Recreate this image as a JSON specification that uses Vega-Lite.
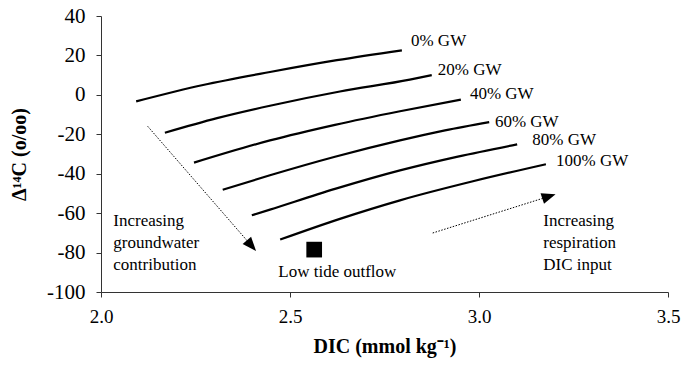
{
  "$schema": "https://vega.github.io/schema/vega-lite/v6.json",
  "width": 567,
  "height": 276,
  "autosize": {"type": "none"},
  "padding": {"left": 101, "top": 16, "right": 15, "bottom": 78},
  "background": "white",
  "config": {
    "view": {"stroke": null},
    "font": "Liberation Serif",
    "axis": {
      "labelFont": "Liberation Serif",
      "labelColor": "black",
      "titleFont": "Liberation Serif",
      "titleFontWeight": "bold",
      "titleColor": "black",
      "domainColor": "#333",
      "tickColor": "#333",
      "grid": false,
      "tickSize": 5,
      "labelOverlap": false
    }
  },
  "datasets": {
    "curves": [
      {"series": "0% GW", "dic": 2.093, "d14c": -3.3},
      {"series": "0% GW", "dic": 2.27, "d14c": 5.0},
      {"series": "0% GW", "dic": 2.447, "d14c": 11.6},
      {"series": "0% GW", "dic": 2.624, "d14c": 17.6},
      {"series": "0% GW", "dic": 2.796, "d14c": 22.6},
      {"series": "20% GW", "dic": 2.169, "d14c": -19.2},
      {"series": "20% GW", "dic": 2.307, "d14c": -11.8},
      {"series": "20% GW", "dic": 2.447, "d14c": -5.5},
      {"series": "20% GW", "dic": 2.632, "d14c": 1.7},
      {"series": "20% GW", "dic": 2.817, "d14c": 7.7},
      {"series": "20% GW", "dic": 2.875, "d14c": 10.0},
      {"series": "40% GW", "dic": 2.246, "d14c": -34.4},
      {"series": "40% GW", "dic": 2.447, "d14c": -23.1},
      {"series": "40% GW", "dic": 2.619, "d14c": -15.2},
      {"series": "40% GW", "dic": 2.791, "d14c": -8.3},
      {"series": "40% GW", "dic": 2.952, "d14c": -2.4},
      {"series": "60% GW", "dic": 2.322, "d14c": -48.1},
      {"series": "60% GW", "dic": 2.447, "d14c": -40.8},
      {"series": "60% GW", "dic": 2.619, "d14c": -31.4},
      {"series": "60% GW", "dic": 2.791, "d14c": -23.1},
      {"series": "60% GW", "dic": 2.91, "d14c": -18.0},
      {"series": "60% GW", "dic": 3.027, "d14c": -13.8},
      {"series": "80% GW", "dic": 2.399, "d14c": -61.1},
      {"series": "80% GW", "dic": 2.447, "d14c": -58.2},
      {"series": "80% GW", "dic": 2.619, "d14c": -47.7},
      {"series": "80% GW", "dic": 2.791, "d14c": -38.3},
      {"series": "80% GW", "dic": 2.944, "d14c": -31.3},
      {"series": "80% GW", "dic": 3.101, "d14c": -25.1},
      {"series": "100% GW", "dic": 2.474, "d14c": -73.4},
      {"series": "100% GW", "dic": 2.632, "d14c": -62.9},
      {"series": "100% GW", "dic": 2.791, "d14c": -53.5},
      {"series": "100% GW", "dic": 2.984, "d14c": -43.85},
      {"series": "100% GW", "dic": 3.177, "d14c": -35.2}
    ],
    "arrows": [
      {"arrow": "groundwater", "dic": 2.1235, "d14c": -15.95},
      {"arrow": "groundwater", "dic": 2.398, "d14c": -76.5},
      {"arrow": "respiration", "dic": 2.8775, "d14c": -70.07},
      {"arrow": "respiration", "dic": 3.185, "d14c": -51.5}
    ],
    "head1": [{"dic": 2.398, "d14c": -76.5}],
    "head2": [{"dic": 3.185, "d14c": -51.5}],
    "outflow": [{"site": "Low tide outflow", "dic": 2.564, "d14c": -78.5}],
    "minor": [
      {"dic": 2.1}, {"dic": 2.2}, {"dic": 2.3}, {"dic": 2.4}, {"dic": 2.5},
      {"dic": 2.6}, {"dic": 2.7}, {"dic": 2.8}, {"dic": 2.9}, {"dic": 3.0},
      {"dic": 3.1}, {"dic": 3.2}, {"dic": 3.3}, {"dic": 3.4}, {"dic": 3.5}
    ],
    "labels": [
      {"label": "0% GW", "dic": 2.82, "d14c": 24.6},
      {"label": "20% GW", "dic": 2.891, "d14c": 10.3},
      {"label": "40% GW", "dic": 2.976, "d14c": -1.9},
      {"label": "60% GW", "dic": 3.042, "d14c": -16.3},
      {"label": "80% GW", "dic": 3.141, "d14c": -25.6},
      {"label": "100% GW", "dic": 3.204, "d14c": -36.2},
      {"label": "Increasing\ngroundwater\ncontribution", "dic": 2.0325, "d14c": -66.7},
      {"label": "Increasing\nrespiration\nDIC input", "dic": 3.17, "d14c": -66.7},
      {"label": "Low tide outflow", "dic": 2.469, "d14c": -92.4}
    ]
  },
  "encoding": {
    "x": {
      "field": "dic",
      "type": "quantitative",
      "scale": {"domain": [2, 3.5], "nice": false, "zero": false},
      "axis": {
        "values": [2, 2.5, 3, 3.5],
        "format": ".1f",
        "labelFont": "Liberation Serif",
        "labelFontSize": 19,
        "labelPadding": 10,
        "titleFont": "Liberation Serif",
        "titleFontSize": 20,
        "titlePadding": 10,
        "title": "DIC (mmol kg⁻¹)",
        "labelFlush": false
      }
    },
    "y": {
      "field": "d14c",
      "type": "quantitative",
      "scale": {"domain": [-100, 40], "nice": false, "zero": false},
      "axis": {
        "values": [-100, -80, -60, -40, -20, 0, 20, 40],
        "labelExpr": "'' + datum.value",
        "labelFont": "Liberation Serif",
        "labelFontSize": 21,
        "labelPadding": 11,
        "titleFont": "Liberation Serif",
        "titleFontSize": 20,
        "titlePadding": 17,
        "title": "Δ¹⁴C (o/oo)"
      }
    }
  },
  "layer": [
    {
      "data": {"name": "minor"},
      "mark": {"type": "rule", "color": "#333", "strokeWidth": 1},
      "encoding": {
        "y": {"datum": -100, "type": "quantitative"},
        "y2": {"datum": -98}
      }
    },
    {
      "data": {"name": "curves"},
      "mark": {"type": "line", "interpolate": "monotone", "color": "black", "strokeWidth": 2.2},
      "encoding": {"detail": {"field": "series", "type": "nominal"}}
    },
    {
      "data": {"name": "arrows"},
      "mark": {"type": "line", "color": "black", "strokeWidth": 1, "strokeDash": [1.5, 1.5]},
      "encoding": {"detail": {"field": "arrow", "type": "nominal"}}
    },
    {
      "data": {"name": "head1"},
      "mark": {"type": "point", "shape": "M0,-1L-0.8,1L0.8,1Z", "filled": true, "color": "black", "opacity": 1, "size": 196, "angle": 139}
    },
    {
      "data": {"name": "head2"},
      "mark": {"type": "point", "shape": "M0,-1L-0.8,1L0.8,1Z", "filled": true, "color": "black", "opacity": 1, "size": 196, "angle": 72}
    },
    {
      "data": {"name": "outflow"},
      "mark": {"type": "point", "shape": "square", "filled": true, "color": "black", "opacity": 1, "size": 246}
    },
    {
      "data": {"name": "labels"},
      "mark": {"type": "text", "align": "left", "baseline": "alphabetic", "font": "Liberation Serif", "fontSize": 17, "lineBreak": "\n", "lineHeight": 22, "color": "black"},
      "encoding": {"text": {"field": "label", "type": "nominal"}}
    }
  ]
}
